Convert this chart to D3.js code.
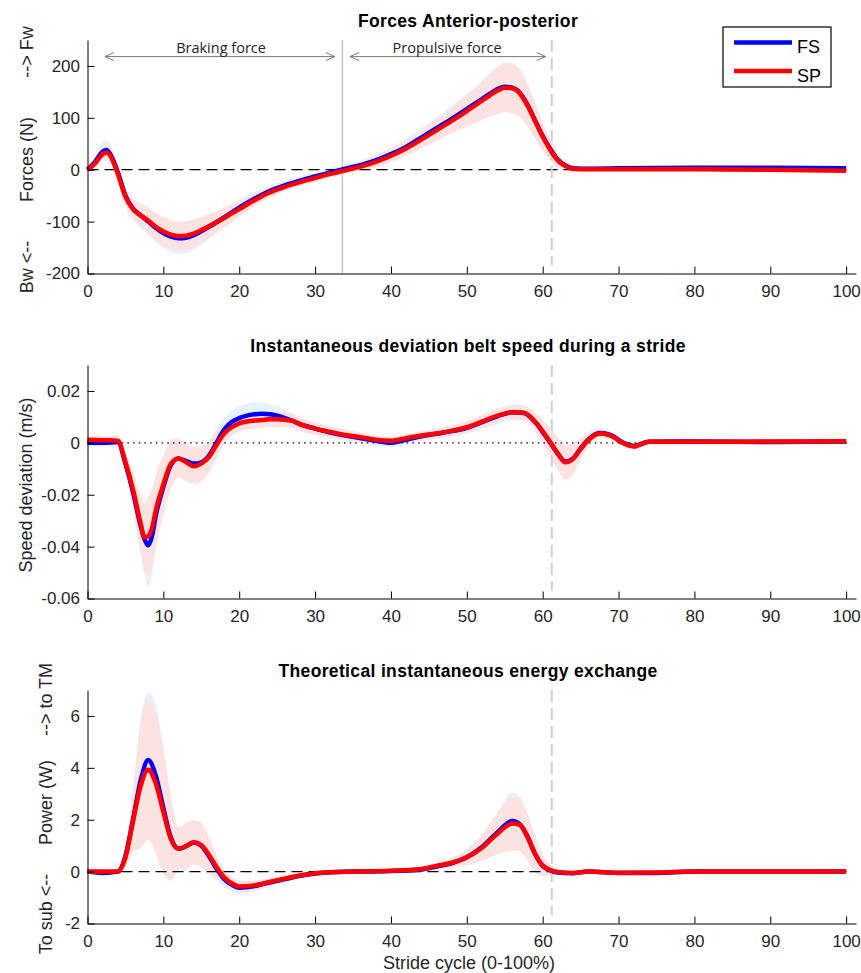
<!DOCTYPE html>
<html>
<head>
<meta charset="utf-8">
<script src="https://cdn.jsdelivr.net/npm/d3@7"></script>
<style>
  body { margin: 0; background: #fff; }
  svg text { font-family: 'Liberation Sans', Arial, Helvetica, sans-serif; fill: #1a1a1a; }
  .title { font-weight: bold; font-size: 17.5px; letter-spacing: 0.35px; fill: #000; }
  .axis text { font-size: 17px; fill: #262626; }
  .axis path, .axis line { stroke: #000; stroke-width: 1; }
  .ylabel, .xlabel { font-size: 18px; fill: #262626; }
  .phase { font-family: 'Open Sans', 'Noto Sans', sans-serif !important; font-size: 14.5px; fill: #222; }
  .legend text { font-size: 18px; fill: #000; }
</style>
</head>
<body>
<div id="chart"></div>
<script>

// ---- shared
var strideTicks = [ 0, 10, 20, 30, 40, 50, 60, 70, 80, 90, 100 ];
var seriesNames = [ 'FS', 'SP' ];
var toeOff = 61.2;

// ---- panel 1 : forces anterior-posterior (N)
var forceX = [ 0, 1, 2, 2.5, 3, 4, 5, 6, 7, 8, 9, 10, 11, 12, 13, 14, 16, 18, 20, 22,
  24, 26, 28, 30, 32, 34, 36, 38, 40, 42, 44, 46, 48, 50, 52, 53, 54, 55, 56, 57,
  58, 59, 60, 61, 62, 63, 64, 66, 70, 80, 90, 100 ];
var forceFS = [ 0, 15, 35, 38, 30, -5, -50, -75, -88, -100, -112, -122, -129, -132, -131, -126, -110, -92, -73, -56,
  -41, -30, -21, -13, -5, 2, 9, 18, 30, 44, 62, 80, 98, 117, 136, 146, 155, 160, 158, 148,
  125, 95, 65, 40, 19, 8, 3, 2, 3, 4, 4, 3 ];
var forceSP = [ 0, 12, 30, 33, 27, -8, -52, -76, -88, -98, -110, -119, -125, -128, -127, -123, -109, -93, -76, -59,
  -44, -33, -24, -16, -8, -1, 6, 15, 27, 41, 58, 76, 94, 113, 133, 143, 152, 158, 157, 147,
  124, 94, 64, 38, 18, 7, 2, 1, 1, 1, 0, -2 ];
var forceFSsd = [ 5, 10, 18, 20, 18, 17, 18, 21, 23, 26, 28, 29, 30, 30, 30, 28, 24, 20, 16, 13,
  11, 9, 8, 8, 8, 8, 9, 11, 13, 15, 18, 21, 25, 30, 36, 40, 44, 46, 47, 45,
  40, 34, 27, 20, 13, 8, 6, 4, 3, 3, 3, 3 ];
var forceSPsd = [ 4, 8, 12, 13, 13, 15, 17, 20, 22, 25, 27, 28, 28, 28, 28, 27, 23, 19, 15, 12,
  10, 8, 7, 7, 7, 7, 8, 10, 12, 14, 17, 20, 24, 30, 37, 41, 45, 47, 48, 46,
  40, 34, 27, 20, 13, 8, 6, 4, 3, 3, 3, 3 ];
var forceTicks = [ -200, -100, 0, 100, 200 ];
var midStance = 33.6;
var phaseLabels = [ 'Braking force', 'Propulsive force' ];
var phaseFrom = [ 2.3, 34.6 ];
var phaseTo = [ 32.6, 60.4 ];
var phaseMid = [ 17.6, 47.4 ];

// ---- panel 2 : belt speed deviation (m/s)
var speedX = [ 0, 2, 4, 5, 6, 7, 7.5, 8, 8.5, 9, 10, 11, 12, 13, 14, 15, 16, 17, 18, 19,
  20, 21, 22, 23, 24, 25, 27, 28, 30, 32, 34, 36, 38, 40, 42, 44, 46, 48, 50, 52,
  54, 56, 57.5, 59, 60, 61, 62, 63, 64, 65, 66, 67.5, 69, 70.5, 72, 74, 80, 90, 100 ];
var speedFS = [ 0, 0, 0.0003, -0.008, -0.019, -0.032, -0.037, -0.0395, -0.036, -0.028,
  -0.017, -0.0085, -0.006, -0.007, -0.008, -0.0075, -0.005, 0, 0.005, 0.008,
  0.0095, 0.0105, 0.011, 0.0112, 0.011, 0.0105, 0.0085, 0.0072, 0.0055, 0.004,
  0.0028, 0.0018, 0.0008, 0, 0.0012, 0.0025, 0.0035, 0.0045, 0.0058, 0.008,
  0.0102, 0.0118, 0.0115, 0.008, 0.0042, 0, -0.0042, -0.0072, -0.006, -0.0022,
  0.0012, 0.0038, 0.003, 0.0002, -0.0012, 0.0004, 0.0005, 0.0003, 0.0005 ];
var speedSP = [ 0.0012, 0.001, 0.0008, -0.0075, -0.018, -0.031, -0.0365, -0.036, -0.033, -0.026,
  -0.016, -0.008, -0.006, -0.0075, -0.009, -0.008, -0.0055, -0.0008, 0.0035, 0.006,
  0.0075, 0.0082, 0.0086, 0.0088, 0.0091, 0.0091, 0.0085, 0.0072, 0.0055, 0.0042,
  0.003, 0.0022, 0.0012, 0.0008, 0.0018, 0.0028, 0.0036, 0.0046, 0.006, 0.0082,
  0.0104, 0.0118, 0.0116, 0.0082, 0.0044, 0.0002, -0.0042, -0.0075, -0.0062, -0.0024,
  0.001, 0.0036, 0.0028, 0, -0.0014, 0.0004, 0.0004, 0.0005, 0.0006 ];
var speedFSsd = [ 0.0015, 0.0015, 0.0017, 0.004, 0.0072, 0.0112, 0.0135, 0.016, 0.0155, 0.014,
  0.011, 0.009, 0.0075, 0.007, 0.0068, 0.0065, 0.006, 0.0052, 0.0045, 0.0045,
  0.0045, 0.0045, 0.0045, 0.0042, 0.004, 0.0036, 0.003, 0.0027, 0.0025, 0.0022,
  0.002, 0.0018, 0.0017, 0.0016, 0.0016, 0.0017, 0.0019, 0.0021, 0.0024, 0.0027,
  0.003, 0.0031, 0.003, 0.0035, 0.0045, 0.0055, 0.006, 0.0065, 0.006, 0.0042,
  0.0028, 0.0018, 0.0015, 0.0012, 0.0012, 0.001, 0.001, 0.001, 0.001 ];
var speedSPsd = [ 0.0015, 0.0016, 0.0018, 0.004, 0.007, 0.011, 0.013, 0.0155, 0.015, 0.014,
  0.011, 0.0095, 0.0075, 0.0072, 0.007, 0.0068, 0.006, 0.005, 0.004, 0.0035,
  0.003, 0.003, 0.003, 0.003, 0.003, 0.003, 0.0028, 0.0026, 0.0025, 0.0022,
  0.002, 0.0018, 0.0016, 0.0015, 0.0015, 0.0016, 0.0018, 0.002, 0.0022, 0.0024,
  0.0025, 0.0025, 0.0028, 0.0035, 0.0045, 0.0055, 0.0062, 0.0068, 0.0062, 0.004,
  0.0025, 0.0015, 0.0015, 0.0012, 0.0012, 0.001, 0.001, 0.001, 0.001 ];
var speedTicks = [ -0.06, -0.04, -0.02, 0, 0.02 ];

// ---- panel 3 : energy exchange (W)
var powerX = [ 0, 2, 4, 5, 6, 7, 8, 9, 10, 11, 12, 13, 14, 15, 16, 17, 18, 19, 20, 22,
  24, 26, 28, 30, 32, 35, 40, 44, 46, 48, 50, 52, 54, 56, 57, 58, 59, 60, 61, 62,
  64, 66, 70, 75, 80, 90, 100 ];
var powerFS = [ 0, -0.05, 0, 0.6, 2.0, 3.5, 4.3, 3.7, 2.45, 1.3,
  0.88, 0.98, 1.12, 1.0, 0.6, 0.12, -0.28, -0.5, -0.62, -0.56,
  -0.42, -0.29, -0.16, -0.07, -0.02, 0, 0.02, 0.08, 0.2, 0.32,
  0.55, 0.95, 1.5, 1.95, 1.82, 1.35, 0.68, 0.22, 0.05, -0.03,
  -0.06, 0, -0.05, -0.05, 0, 0, 0 ];
var powerSP = [ 0, 0, 0, 0.55, 1.95, 3.3, 3.93, 3.4, 2.3, 1.25,
  0.88, 0.98, 1.13, 1.02, 0.65, 0.18, -0.22, -0.45, -0.57, -0.53,
  -0.4, -0.27, -0.15, -0.06, -0.02, 0, 0.03, 0.1, 0.22, 0.34,
  0.55, 0.92, 1.45, 1.85, 1.8, 1.33, 0.68, 0.24, 0.06, -0.02,
  -0.05, 0, -0.04, -0.03, 0, 0, 0 ];
var powerFSsd = [ 0.05, 0.05, 0.08, 0.4, 1.2, 2.4, 2.6, 2.75, 2.4, 1.6,
  0.85, 0.9, 0.85, 0.85, 0.7, 0.45, 0.32, 0.28, 0.25, 0.2,
  0.17, 0.13, 0.1, 0.08, 0.06, 0.05, 0.05, 0.08, 0.12, 0.18,
  0.3, 0.5, 0.8, 1.1, 1.05, 0.9, 0.7, 0.4, 0.2, 0.12,
  0.08, 0.05, 0.05, 0.05, 0.05, 0.05, 0.05 ];
var powerSPsd = [ 0.05, 0.05, 0.08, 0.4, 1.2, 2.4, 2.7, 2.7, 2.4, 1.6,
  0.8, 0.9, 0.85, 0.85, 0.7, 0.45, 0.3, 0.25, 0.2, 0.18,
  0.15, 0.12, 0.1, 0.08, 0.06, 0.05, 0.05, 0.08, 0.12, 0.18,
  0.3, 0.5, 0.8, 1.05, 1.0, 0.9, 0.7, 0.4, 0.2, 0.12,
  0.08, 0.05, 0.05, 0.05, 0.05, 0.05, 0.05 ];
var powerTicks = [ -2, 0, 2, 4, 6 ];


var width = 861, height = 973,
  plotLeft = 87.5, plotRight = 856, plotH = 233.5;

var colors = { FS: '#0000ff', SP: '#ff0000' },
  bandColors = { FS: '#e6f2fc', SP: '#fde2e2' };

var panels = [
  { top: 40, title: 'Forces Anterior-posterior', titleY: 26.5,
    x: forceX, FS: forceFS, SP: forceSP, FSsd: forceFSsd, SPsd: forceSPsd,
    domain: [ -200, 250 ], ticks: forceTicks, zero: '11,6',
    labels: [ [ '--> Fw', 12 ], [ 'Forces (N)', 119.5 ], [ 'Bw <--', 227 ] ], labelX: 33 },
  { top: 365, title: 'Instantaneous deviation belt speed during a stride', titleY: 351.5,
    x: speedX, FS: speedFS, SP: speedSP, FSsd: speedFSsd, SPsd: speedSPsd,
    domain: [ -0.06, 0.03 ], ticks: speedTicks, zero: '1.5,4.2',
    labels: [ [ 'Speed deviation (m/s)', 120 ] ], labelX: 31.5 },
  { top: 690, title: 'Theoretical instantaneous energy exchange', titleY: 677,
    x: powerX, FS: powerFS, SP: powerSP, FSsd: powerFSsd, SPsd: powerSPsd,
    domain: [ -2, 7 ], ticks: powerTicks, zero: '11,6',
    labels: [ [ '--> to TM', 9.5 ], [ 'Power (W)', 112.5 ], [ 'To sub <--', 224 ] ], labelX: 52 }
];

var svg = d3.select( '#chart' ).append( 'svg' )
  .attr( 'width', width )
  .attr( 'height', height );

var xScale = d3.scaleLinear()
  .domain( [ 0, 101.3 ] )
  .range( [ plotLeft, plotRight ] );

panels.forEach( function( p, pi ) {

  var yScale = d3.scaleLinear()
    .domain( p.domain )
    .range( [ p.top + plotH, p.top ] );

  var g = svg.append( 'g' );

  // std bands, FS underneath
  seriesNames.forEach( function( s ) {
    var area = d3.area()
      .curve( d3.curveMonotoneX )
      .x( ( d, i ) => xScale( p.x[ i ] ) )
      .y0( ( d, i ) => yScale( p[ s ][ i ] - p[ s + 'sd' ][ i ] ) )
      .y1( ( d, i ) => yScale( p[ s ][ i ] + p[ s + 'sd' ][ i ] ) );
    g.append( 'path' )
      .attr( 'd', area( p.x ) )
      .attr( 'fill', bandColors[ s ] );
  } );

  // zero line
  g.append( 'line' )
    .attr( 'x1', xScale( 0 ) )
    .attr( 'x2', xScale( 100.7 ) )
    .attr( 'y1', yScale( 0 ) )
    .attr( 'y2', yScale( 0 ) )
    .attr( 'stroke', '#000' )
    .attr( 'stroke-width', 1.3 )
    .attr( 'stroke-dasharray', p.zero );

  // toe off
  g.append( 'line' )
    .attr( 'x1', xScale( toeOff ) )
    .attr( 'x2', xScale( toeOff ) )
    .attr( 'y1', p.top )
    .attr( 'y2', p.top + plotH - 8 )
    .attr( 'stroke', '#cfcfcf' )
    .attr( 'stroke-width', 2 )
    .attr( 'stroke-dasharray', '12,6' );

  if( pi === 0 ) {
    g.append( 'line' )
      .attr( 'x1', xScale( midStance ) )
      .attr( 'x2', xScale( midStance ) )
      .attr( 'y1', p.top )
      .attr( 'y2', p.top + plotH )
      .attr( 'stroke', '#c8c8c8' )
      .attr( 'stroke-width', 1.5 );

    phaseLabels.forEach( function( lab, i ) {
      var ay = yScale( 218 ),
        x0 = xScale( phaseFrom[ i ] ),
        x1 = xScale( phaseTo[ i ] );
      g.append( 'path' )
        .attr( 'd', 'M' + x0 + ',' + ay + 'H' + x1 +
          'M' + ( x0 + 9 ) + ',' + ( ay - 4 ) + 'L' + x0 + ',' + ay + 'L' + ( x0 + 9 ) + ',' + ( ay + 4 ) +
          'M' + ( x1 - 9 ) + ',' + ( ay - 4 ) + 'L' + x1 + ',' + ay + 'L' + ( x1 - 9 ) + ',' + ( ay + 4 ) )
        .attr( 'fill', 'none' )
        .attr( 'stroke', '#7a7a7a' )
        .attr( 'stroke-width', 1 );
      g.append( 'text' )
        .attr( 'class', 'phase' )
        .attr( 'x', xScale( phaseMid[ i ] ) )
        .attr( 'y', yScale( 225 ) )
        .attr( 'text-anchor', 'middle' )
        .text( lab );
    } );
  }

  // mean curves, SP on top
  seriesNames.forEach( function( s ) {
    var line = d3.line()
      .curve( d3.curveMonotoneX )
      .x( ( d, i ) => xScale( p.x[ i ] ) )
      .y( ( d, i ) => yScale( p[ s ][ i ] ) );
    g.append( 'path' )
      .attr( 'd', line( p.x ) )
      .attr( 'fill', 'none' )
      .attr( 'stroke', colors[ s ] )
      .attr( 'stroke-width', 4.5 )
      .attr( 'stroke-linejoin', 'round' );
  } );

  // axes, matlab style ticks pointing in
  g.append( 'g' )
    .attr( 'class', 'axis' )
    .attr( 'transform', 'translate(0,' + ( p.top + plotH ) + ')' )
    .call( d3.axisBottom( xScale ).tickValues( strideTicks ).tickSizeInner( -7 ).tickSizeOuter( 0 ).tickPadding( 11 ).tickFormat( d => String( d ) ) );

  g.append( 'g' )
    .attr( 'class', 'axis' )
    .attr( 'transform', 'translate(' + plotLeft + ',0)' )
    .call( d3.axisLeft( yScale ).tickValues( p.ticks ).tickSizeInner( -7 ).tickSizeOuter( 0 ).tickPadding( 7.5 ).tickFormat( d => String( d ) ) );

  g.append( 'text' )
    .attr( 'class', 'title' )
    .attr( 'x', 468 )
    .attr( 'y', p.titleY )
    .attr( 'text-anchor', 'middle' )
    .text( p.title );

  p.labels.forEach( function( l ) {
    g.append( 'text' )
      .attr( 'class', 'ylabel' )
      .attr( 'transform', 'translate(' + p.labelX + ',' + ( p.top + l[ 1 ] ) + ') rotate(-90)' )
      .attr( 'text-anchor', 'middle' )
      .text( l[ 0 ] );
  } );

} );

svg.append( 'text' )
  .attr( 'class', 'xlabel' )
  .attr( 'x', 469 )
  .attr( 'y', 969 )
  .attr( 'text-anchor', 'middle' )
  .text( 'Stride cycle (0-100%)' );

// legend
var legend = svg.append( 'g' ).attr( 'class', 'legend' );
legend.append( 'rect' )
  .attr( 'x', 723 ).attr( 'y', 27 )
  .attr( 'width', 108 ).attr( 'height', 60 )
  .attr( 'fill', '#fff' )
  .attr( 'stroke', '#000' )
  .attr( 'stroke-width', 1.2 );
seriesNames.forEach( function( s, i ) {
  var ly = 42.5 + i * 28.5;
  legend.append( 'line' )
    .attr( 'x1', 734 ).attr( 'x2', 792 )
    .attr( 'y1', ly ).attr( 'y2', ly )
    .attr( 'stroke', colors[ s ] )
    .attr( 'stroke-width', 4.5 );
  legend.append( 'text' )
    .attr( 'x', 797 )
    .attr( 'y', ly + 10.5 )
    .text( s );
} );

</script>
</body>
</html>
